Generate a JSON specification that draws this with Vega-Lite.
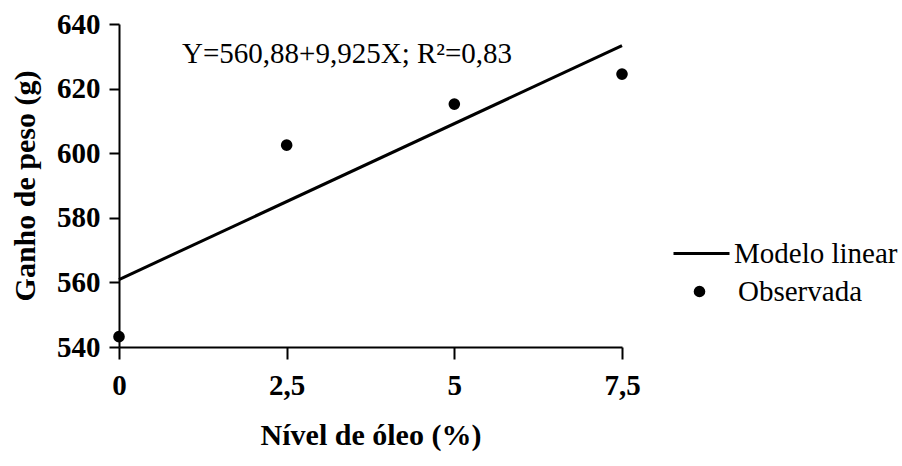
{
  "$schema": "https://vega.github.io/schema/vega-lite/v6.json",
  "width": 503,
  "height": 323,
  "autosize": {"type": "none"},
  "padding": {"left": 119, "top": 24, "right": 280, "bottom": 119},
  "background": "white",
  "config": {
    "view": {"stroke": null},
    "font": "Liberation Serif",
    "axis": {
      "domainColor": "black", "domainWidth": 2, "tickColor": "black", "tickWidth": 2,
      "grid": false, "labelColor": "black", "titleColor": "black",
      "labelFont": "Liberation Serif", "titleFont": "Liberation Serif",
      "labelFontWeight": "bold", "titleFontWeight": "bold",
      "labelFontSize": 29, "titleFontSize": 30, "labelFlush": false
    },
    "legend": {
      "labelFont": "Liberation Serif", "labelFontSize": 29, "labelColor": "black",
      "labelFontWeight": "normal", "labelLimit": 400
    }
  },
  "layer": [
    {
      "data": {"values": [
        {"nivel": 0, "ganho": 560.88, "serie": "Modelo linear"},
        {"nivel": 7.5, "ganho": 633.3, "serie": "Modelo linear"}
      ]},
      "mark": {"type": "line", "strokeWidth": 3, "clip": false},
      "encoding": {
        "x": {
          "field": "nivel", "type": "quantitative",
          "scale": {"domain": [0, 7.5], "nice": false, "zero": false},
          "axis": {
            "values": [0, 2.5, 5, 7.5], "tickSize": 12, "labelPadding": 12,
            "labelExpr": "replace(format(datum.value, '~g'), '.', ',')",
            "title": "Nível de óleo (%)", "titlePadding": 20
          }
        },
        "y": {
          "field": "ganho", "type": "quantitative",
          "scale": {"domain": [540, 640], "nice": false, "zero": false},
          "axis": {
            "values": [540, 560, 580, 600, 620, 640], "tickSize": 10, "labelPadding": 9,
            "title": "Ganho de peso (g)", "titlePadding": 16
          }
        },
        "color": {
          "field": "serie", "type": "nominal",
          "scale": {"domain": ["Modelo linear"], "range": ["black"]},
          "legend": {
            "title": null, "orient": "none", "legendX": 553, "legendY": 200,
            "symbolType": "stroke", "symbolSize": 3136, "symbolStrokeWidth": 3,
            "labelOffset": 3, "labelFont": "Liberation Serif", "labelFontSize": 29,
            "encode": {"labels": {"update": {"font": {"value": "Liberation Serif"}, "fontSize": {"value": 29}}}}
          }
        }
      }
    },
    {
      "data": {"values": [
        {"nivel": 0, "ganho": 543.2, "serie": "Observada"},
        {"nivel": 2.5, "ganho": 602.5, "serie": "Observada"},
        {"nivel": 5, "ganho": 615.2, "serie": "Observada"},
        {"nivel": 7.5, "ganho": 624.5, "serie": "Observada"}
      ]},
      "mark": {"type": "point", "filled": true, "color": "black", "opacity": 1, "size": 135, "clip": false},
      "encoding": {
        "x": {"field": "nivel", "type": "quantitative"},
        "y": {"field": "ganho", "type": "quantitative"},
        "shape": {
          "field": "serie", "type": "nominal",
          "scale": {"domain": ["Observada"], "range": ["circle"]},
          "legend": {
            "title": null, "orient": "none", "legendX": 566, "legendY": 253,
            "symbolSize": 135, "symbolFillColor": "black", "symbolStrokeColor": "black",
            "symbolOpacity": 1, "labelOffset": 24, "labelFont": "Liberation Serif", "labelFontSize": 29,
            "encode": {"labels": {"update": {"font": {"value": "Liberation Serif"}, "fontSize": {"value": 29}}}}
          }
        }
      }
    },
    {
      "data": {"values": [{"texto": "Y=560,88+9,925X; R²=0,83"}]},
      "mark": {"type": "text", "align": "left", "baseline": "alphabetic", "fontSize": 29, "color": "black", "font": "Liberation Serif"},
      "encoding": {
        "x": {"datum": 0.94, "type": "quantitative"},
        "y": {"datum": 628, "type": "quantitative"},
        "text": {"field": "texto", "type": "nominal"}
      }
    }
  ]
}
